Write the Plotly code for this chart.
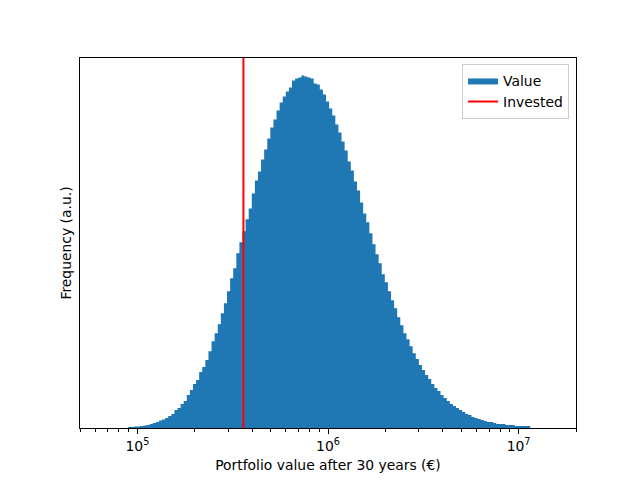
import numpy as np
import plotly.graph_objects as go

# Histogram (log-spaced bins), heights (arbitrary units)
bin_lo = 8.93e4       # left edge of first bin
bin_hi = 1.151e7      # right edge of last bin
counts = [1, 1, 1.5, 1.5, 2, 2.5,
          3, 4, 5, 6,
          7.5, 8.5, 10, 12, 14, 18, 20, 24, 27, 33,
          38, 44, 48, 56, 61, 68, 77, 87, 95, 104,
          115, 125, 137, 150, 160, 175, 186, 197, 209, 220,
          235, 248, 257, 269, 279, 290, 301, 309, 318, 326,
          332, 337, 341, 348, 350, 351, 353, 352, 351, 350,
          345, 344, 339, 334, 327, 320, 313, 304, 296, 287,
          278, 267, 258, 247, 238, 226, 215, 206, 195, 184,
          174, 165, 154, 146, 137, 128, 120, 111, 103, 95,
          89, 82, 75, 69, 63, 58, 53, 49, 44, 40,
          37, 33, 30, 27, 24, 22, 20, 18, 16, 14,
          13, 11, 10, 9, 8, 7, 6, 6, 5, 4,
          4, 4, 3, 3, 3, 2, 2, 2, 2, 2]
invested = 360000

x_range = [5e4, 2e7]
major_ticks = [1e5, 1e6, 1e7]
major_text = ["10<sup>5</sup>", "10<sup>6</sup>", "10<sup>7</sup>"]
minor_ticks = [m * 10 ** e for e in (4, 5, 6, 7) for m in range(2, 10)
               if 5e4 <= m * 10 ** e <= 2e7]

edges = np.logspace(np.log10(bin_lo), np.log10(bin_hi), len(counts) + 1)
ymax = max(counts) * 1.05

FONT = "DejaVu Sans"
FS = 13.9
BLUE = "#1f77b4"

fig = go.Figure()
fig.add_trace(go.Scatter(
    x=edges, y=list(counts) + [counts[-1]],
    mode="lines", line=dict(width=0, shape="hv", color=BLUE),
    fill="tozeroy", fillcolor=BLUE, name="Value",
))
fig.add_trace(go.Scatter(
    x=[invested, invested], y=[0, ymax],
    mode="lines", line=dict(color="red", width=2), name="Invested",
))

fig.update_layout(
    width=640, height=480,
    margin=dict(l=80, r=64, t=58, b=52),
    paper_bgcolor="white", plot_bgcolor="white",
    font=dict(family=FONT, size=FS, color="black"),
    showlegend=True,
    legend=dict(
        x=0.986, y=0.984, xanchor="right", yanchor="top",
        bgcolor="rgba(255,255,255,0.8)", bordercolor="#cccccc", borderwidth=1,
        font=dict(family=FONT, size=FS),
        tracegroupgap=0, itemwidth=30,
    ),
    xaxis=dict(
        type="log", range=[np.log10(x_range[0]), np.log10(x_range[1])],
        tickvals=major_ticks, ticktext=major_text,
        tickfont=dict(family=FONT, size=FS),
        ticks="outside", ticklen=5, tickwidth=1, tickcolor="black",
        showgrid=False, zeroline=False,
        showline=True, mirror=True, linecolor="black", linewidth=1,
        minor=dict(tickvals=minor_ticks, ticks="outside", ticklen=3,
                   tickwidth=1, tickcolor="black", showgrid=False),
        title=dict(text="Portfolio value after 30 years (€)", standoff=7,
                   font=dict(family=FONT, size=FS)),
        automargin=False,
    ),
    yaxis=dict(
        range=[0, ymax], showticklabels=False, ticks="",
        showgrid=False, zeroline=False,
        showline=True, mirror=True, linecolor="black", linewidth=1,
        title=dict(text="Frequency (a.u.)", standoff=4,
                   font=dict(family=FONT, size=FS)),
        automargin=False,
    ),
)

fig.write_html("out.html")
